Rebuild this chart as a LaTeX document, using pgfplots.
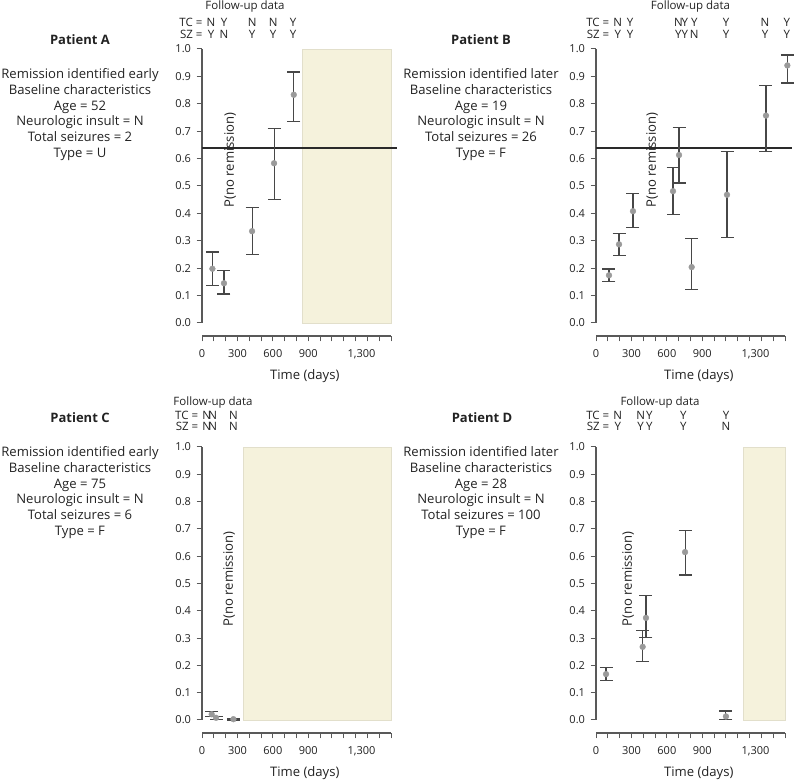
\documentclass[border=0pt]{standalone}
\usepackage{fontspec}
\setmainfont{Open Sans}
\usepackage{pgfplots}
\pgfplotsset{compat=1.18}

\definecolor{axisc}{HTML}{595959}
\definecolor{errc}{HTML}{474747}
\definecolor{ptc}{HTML}{9A9A9A}
\definecolor{hlc}{HTML}{2A2A2A}
\definecolor{shade}{HTML}{F5F2DC}
\definecolor{shadeb}{HTML}{E2DFCB}
\definecolor{txt}{HTML}{222222}

\newcommand\bodyf{\fontsize{13.1}{15.8}\selectfont}
\newcommand\hdrf{\fontsize{11.5}{13}\selectfont}
% header letter pair: x, TC, SZ, shift of TC row, shift of SZ row
\newcommand\hl[5]{%
  \node[font=\hdrf] at (axis cs:#1,1) [yshift=#4] {#2};
  \node[font=\hdrf] at (axis cs:#1,1) [yshift=#5] {#3};}

\pgfplotsset{
  panel/.style={
    scale only axis, width=189pt, anchor=south west,
    xmin=0, xmax=1600, ymin=0, ymax=1,
    axis x line=bottom, axis y line=left,
    axis line style={-, draw=axisc, line width=1.1pt},
    axis x line shift=13pt,
    tick align=outside, major tick length=5.5pt,
    tick style={draw=axisc, line width=1pt},
    xtick={0,100,...,1600},
    xticklabels={0,,,300,,,600,,,900,,,,,,,},
    extra x ticks={1350}, extra x tick labels={1{,}300},
    extra x tick style={tick style={draw=none}},
    ytick={0,0.1,0.2,0.3,0.4,0.5,0.6,0.7,0.8,0.9,1},
    yticklabels={0.0,0.1,0.2,0.3,0.4,0.5,0.6,0.7,0.8,0.9,1.0},
    ticklabel style={font=\fontsize{11}{12}\selectfont, text=txt},
    xticklabel style={yshift=-4pt},
    yticklabel style={xshift=-2pt},
    clip=false,
  },
  pts/.style={only marks, mark=*, mark size=2.9pt,
    mark options={draw=ptc, fill=ptc},
    error bars/.cd, y dir=both, y explicit,
    error bar style={draw=errc, line width=1.1pt},
    error mark options={rotate=90, draw=errc, line width=1.1pt, mark size=6.5pt}},
}

\begin{document}
\begin{tikzpicture}[x=1pt,y=1pt,every node/.style={text=txt}]
\useasboundingbox (0,0) rectangle (796,782);

% left text blocks
\node[font=\fontsize{13}{15}\selectfont\bfseries] at (80,742) {Patient A};
\node[font=\bodyf, align=center, anchor=north] at (80,717) {Remission identified early\\Baseline characteristics\\Age = 52\\Neurologic insult = N\\Total seizures = 2\\Type = U};
\node[font=\fontsize{13}{15}\selectfont\bfseries] at (481,742) {Patient B};
\node[font=\bodyf, align=center, anchor=north] at (481,717) {Remission identified later\\Baseline characteristics\\Age = 19\\Neurologic insult = N\\Total seizures = 26\\Type = F};
\node[font=\fontsize{13}{15}\selectfont\bfseries] at (80,364) {Patient C};
\node[font=\bodyf, align=center, anchor=north] at (80,339) {Remission identified early\\Baseline characteristics\\Age = 75\\Neurologic insult = N\\Total seizures = 6\\Type = F};
\node[font=\fontsize{13}{15}\selectfont\bfseries] at (482,364) {Patient D};
\node[font=\bodyf, align=center, anchor=north] at (481,339) {Remission identified later\\Baseline characteristics\\Age = 28\\Neurologic insult = N\\Total seizures = 100\\Type = F};

% Patient A
\begin{axis}[panel, height=274pt, at={(202pt,459pt)}]
\addplot[draw=shadeb, fill=shade, line width=0.5pt] coordinates {(850,0) (1600,0) (1600,1) (850,1)} -- cycle;
\addplot[hlc, line width=1.9pt] coordinates {(0,0.64) (1655,0.64)};
\addplot[pts] table[x=x, y=y, y error plus=ep, y error minus=em] {
x y ep em
88 0.198 0.061 0.061
186 0.145 0.048 0.039
424 0.335 0.085 0.086
610 0.583 0.127 0.133
777 0.833 0.083 0.097
};
\node[rotate=90, font=\bodyf] at (axis cs:237,0.595) {P(no remission)};
\node[font=\bodyf] at (axis cs:870,0) [yshift=-53pt] {Time (days)};
\node[font=\hdrf] at (axis cs:364,1) [yshift=42pt] {Follow-up data};
\node[font=\hdrf, anchor=east] at (axis cs:76,1) [yshift=26.6pt, xshift=-5pt] {TC =};
\node[font=\hdrf, anchor=east] at (axis cs:76,1) [yshift=14.3pt, xshift=-5pt] {SZ =};
\hl{76}{N}{Y}{26.6pt}{14.3pt}
\hl{186}{Y}{N}{26.6pt}{14.3pt}
\hl{424}{N}{Y}{26.6pt}{14.3pt}
\hl{602}{N}{Y}{26.6pt}{14.3pt}
\hl{771}{Y}{Y}{26.6pt}{14.3pt}
\end{axis}

% Patient B
\begin{axis}[panel, height=274pt, at={(596pt,459pt)}]
\addplot[hlc, line width=1.9pt] coordinates {(0,0.64) (1656,0.64)};
\addplot[pts] table[x=x, y=y, y error plus=ep, y error minus=em] {
x y ep em
110 0.174 0.023 0.024
195 0.287 0.041 0.040
313 0.408 0.066 0.061
652 0.481 0.085 0.084
703 0.613 0.099 0.102
810 0.204 0.103 0.081
1109 0.468 0.157 0.155
1439 0.757 0.109 0.132
1620 0.940 0.038 0.064
};
\node[rotate=90, font=\bodyf] at (axis cs:474,0.595) {P(no remission)};
\node[font=\bodyf] at (axis cs:870,0) [yshift=-53pt] {Time (days)};
\node[font=\hdrf] at (axis cs:800,1) [yshift=42pt] {Follow-up data};
\node[font=\hdrf, anchor=east] at (axis cs:184,1) [yshift=26.6pt, xshift=-5pt] {TC =};
\node[font=\hdrf, anchor=east] at (axis cs:184,1) [yshift=14.3pt, xshift=-5pt] {SZ =};
\hl{184}{N}{Y}{26.6pt}{14.3pt}
\hl{288}{Y}{Y}{26.6pt}{14.3pt}
\hl{698}{N}{Y}{26.6pt}{14.3pt}
\hl{752}{Y}{Y}{26.6pt}{14.3pt}
\hl{832}{Y}{N}{26.6pt}{14.3pt}
\hl{1101}{Y}{Y}{26.6pt}{14.3pt}
\hl{1431}{N}{Y}{26.6pt}{14.3pt}
\hl{1615}{Y}{Y}{26.6pt}{14.3pt}
\end{axis}

% Patient C
\begin{axis}[panel, height=273pt, at={(202pt,62pt)}]
\addplot[draw=shadeb, fill=shade, line width=0.5pt] coordinates {(350,0) (1600,0) (1600,1) (350,1)} -- cycle;
\addplot[pts] table[x=x, y=y, y error plus=ep, y error minus=em] {
x y ep em
82 0.021 0.009 0.009
119 0.008 0.005 0.005
266 0.003 0.003 0.003
};
\node[rotate=90, font=\bodyf] at (axis cs:229,0.516) {P(no remission)};
\node[font=\bodyf] at (axis cs:870,0) [yshift=-53pt] {Time (days)};
\node[font=\hdrf] at (axis cs:93,1) [yshift=44.6pt] {Follow-up data};
\node[font=\hdrf, anchor=east] at (axis cs:40,1) [yshift=32pt, xshift=-5pt] {TC =};
\node[font=\hdrf, anchor=east] at (axis cs:40,1) [yshift=21pt, xshift=-5pt] {SZ =};
\hl{40}{N}{N}{32pt}{21pt}
\hl{91}{N}{N}{32pt}{21pt}
\hl{266}{N}{N}{32pt}{21pt}
\end{axis}

% Patient D
\begin{axis}[panel, height=273pt, at={(596pt,62pt)}]
\addplot[draw=shadeb, fill=shade, line width=0.5pt] coordinates {(1245,0) (1600,0) (1600,1) (1245,1)} -- cycle;
\addplot[pts] table[x=x, y=y, y error plus=ep, y error minus=em] {
x y ep em
85 0.168 0.023 0.022
395 0.268 0.059 0.053
423 0.374 0.082 0.073
754 0.615 0.078 0.084
1100 0.013 0.020 0.011
};
\node[rotate=90, font=\bodyf] at (axis cs:271,0.516) {P(no remission)};
\node[font=\bodyf] at (axis cs:870,0) [yshift=-53pt] {Time (days)};
\node[font=\hdrf] at (axis cs:542,1) [yshift=44.6pt] {Follow-up data};
\node[font=\hdrf, anchor=east] at (axis cs:184,1) [yshift=32pt, xshift=-5pt] {TC =};
\node[font=\hdrf, anchor=east] at (axis cs:184,1) [yshift=21pt, xshift=-5pt] {SZ =};
\hl{184}{N}{Y}{32pt}{21pt}
\hl{378}{N}{Y}{32pt}{21pt}
\hl{451}{Y}{Y}{32pt}{21pt}
\hl{739}{Y}{Y}{32pt}{21pt}
\hl{1101}{Y}{N}{32pt}{21pt}
\end{axis}
\end{tikzpicture}
\end{document}
